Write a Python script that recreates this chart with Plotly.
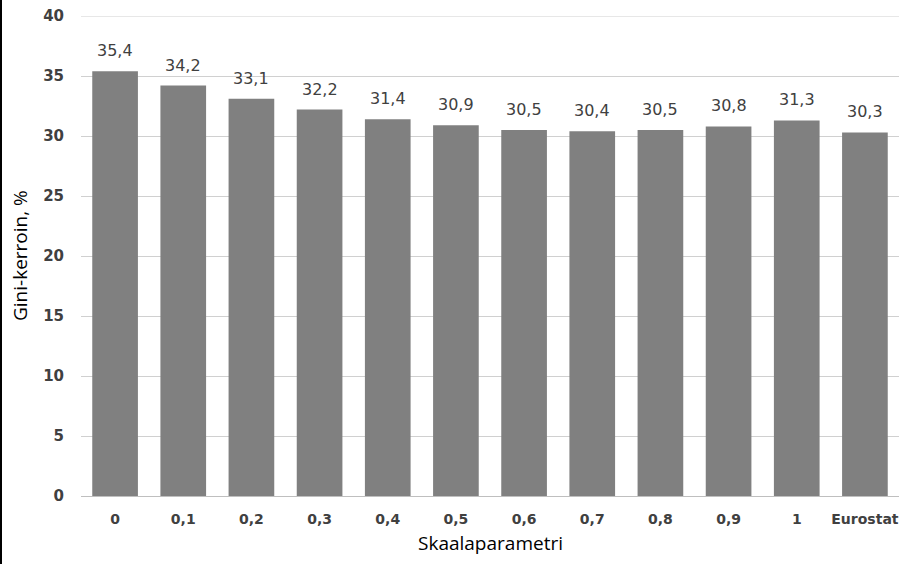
import plotly.graph_objects as go

categories = ["0", "0,1", "0,2", "0,3", "0,4", "0,5", "0,6", "0,7", "0,8", "0,9", "1", "Eurostat"]
values = [35.4, 34.2, 33.1, 32.2, 31.4, 30.9, 30.5, 30.4, 30.5, 30.8, 31.3, 30.3]
labels = [f"{v:.1f}".replace(".", ",") for v in values]
y_ticks = [0, 5, 10, 15, 20, 25, 30, 35, 40]

W, H = 922, 564
L, R, T, B = 81, 23, 16, 68
PW, PH = W - L - R, H - T - B
font = "DejaVu Sans"
tfont = "Open Sans"

fig = go.Figure()
fig.add_trace(go.Bar(x=list(range(len(categories))), y=values, marker_color="#808080",
                     marker_line_width=0, hoverinfo="skip"))

for i, (v, t) in enumerate(zip(values, labels)):
    fig.add_annotation(x=i, y=v, text=t, showarrow=False, yanchor="bottom", yshift=9,
                       font=dict(family=font, size=16, color="#404040"))

fig.update_layout(
    width=W, height=H,
    margin=dict(l=L, r=R, t=T, b=B),
    paper_bgcolor="white", plot_bgcolor="white",
    bargap=0.33,
    showlegend=False,
    font=dict(family=font, color="#404040"),
    xaxis=dict(
        range=[-0.5, len(categories) - 0.5],
        tickmode="array", tickvals=list(range(len(categories))), ticktext=categories,
        showgrid=False, showline=True, linecolor="#bfbfbf", linewidth=1, zeroline=False,
        ticks="", tickfont=dict(family=font, size=14, color="#404040", weight="bold"),
        ticklabelstandoff=10, automargin=False,
    ),
    yaxis=dict(
        range=[0, 40], tickmode="array", tickvals=y_ticks,
        showgrid=True, gridcolor="#d0d0d0", gridwidth=1,
        zeroline=False, showline=False, ticks="",
        tickfont=dict(family=font, size=15, color="#404040", weight="bold"),
        ticklabelstandoff=16, automargin=False,
    ),
)

# top gridline at the range edge
fig.add_shape(type="line", xref="paper", yref="y", x0=0, x1=1, y0=y_ticks[-1], y1=y_ticks[-1],
              line=dict(color="#d0d0d0", width=1), layer="below")

fig.add_annotation(text="Skaalaparametri", xref="paper", yref="paper", x=0.5,
                   y=-(543 - T - PH) / PH, yanchor="middle", showarrow=False,
                   font=dict(family=tfont, size=19, color="#000000"))
fig.add_annotation(text="Gini-kerroin, %", xref="paper", yref="paper",
                   x=-(L - 20) / PW, y=0.5, xanchor="center", yanchor="middle",
                   textangle=-90, showarrow=False,
                   font=dict(family=tfont, size=19, color="#000000"))

fig.add_shape(type="line", xref="paper", yref="paper",
              x0=-(L - 1) / PW, x1=-(L - 1) / PW,
              y0=-B / PH, y1=1 + T / PH,
              line=dict(color="black", width=2))

fig.write_html("out.html", config={"displayModeBar": False},
               post_script="document.body.style.margin='0';")
